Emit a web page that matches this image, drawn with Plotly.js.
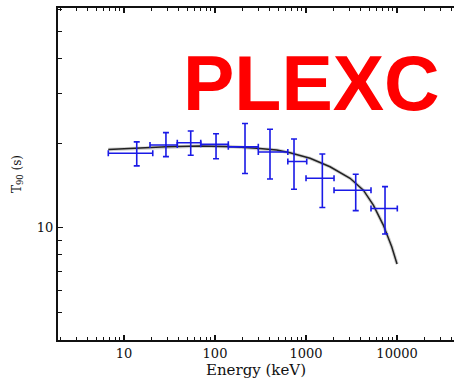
<!DOCTYPE html>
<html>
<head>
<meta charset="utf-8">
<script src="https://cdn.plot.ly/plotly-3.0.1.min.js"></script>
<style>html,body{margin:0;padding:0;background:#fff;}#chart{width:454px;height:379px;}</style>
</head>
<body>
<div id="chart"></div>
<script>
// Data points: energy bin centre (keV), bin edges, T90 (s) and its error bounds
var energy     = [13.8, 28.9, 54.1, 102.6, 213.6, 402, 738, 1511, 3516, 7380];
var energyLow  = [6.72, 19.3, 38.5, 69.7, 140, 299, 631, 1000, 2031, 5176];
var energyHigh = [20.7, 38.5, 69.7, 140, 299, 631, 1018, 2031, 5176, 10070];
var t90        = [18.4, 19.7, 20.07, 19.8, 19.4, 18.6, 17.2, 15.0, 13.6, 11.7];
var t90Low     = [16.6, 17.9, 18.1, 17.6, 15.6, 14.9, 13.7, 11.8, 11.5, 9.5];
var t90High    = [20.2, 21.8, 22.1, 21.6, 23.5, 22.4, 20.7, 18.3, 15.5, 14.0];

// PLEXC model curve
var modelE   = [6.72, 12.65, 29.4, 68.4, 159, 287, 476, 667, 1107, 1836, 3048, 4268, 5495, 7066, 8745, 10000];
var modelT90 = [19.0, 19.17, 19.43, 19.54, 19.43, 19.17, 18.9, 18.49, 17.66, 16.48, 14.99, 13.6, 12.04, 10.22, 8.56, 7.43];

var xMajor = [10, 100, 1000, 10000];
var xMajorText = ['10', '100', '1000', '10000'];
var xMinor = [2,3,4,5,6,7,8,9,20,30,40,50,60,70,80,90,200,300,400,500,600,700,800,900,
              2000,3000,4000,5000,6000,7000,8000,9000,20000,30000,40000];
var yMajor = [10];
var yMajorText = ['10'];
var yMinor = [4,5,6,7,8,9,20,30,40,50,60];

var errPlus = [], errMinus = [], yPlus = [], yMinus = [];
for (var i = 0; i < energy.length; i++) {
  errPlus.push(energyHigh[i] - energy[i]);
  errMinus.push(energy[i] - energyLow[i]);
  yPlus.push(t90High[i] - t90[i]);
  yMinus.push(t90[i] - t90Low[i]);
}

var serif = 'DejaVu Serif, serif';

var traces = [
  {
    x: modelE, y: modelT90, type: 'scatter', mode: 'lines',
    line: {color: 'rgba(0,0,0,0.18)', width: 3.5}, hoverinfo: 'skip', showlegend: false
  },
  {
    x: modelE, y: modelT90, type: 'scatter', mode: 'lines',
    line: {color: '#222222', width: 1.5}, showlegend: false
  },
  {
    x: energy, y: t90, type: 'scatter', mode: 'markers',
    marker: {size: 1, color: '#1a1ae6'},
    error_x: {type: 'data', symmetric: false, array: errPlus, arrayminus: errMinus,
              color: '#1a1ae6', thickness: 1.6, width: 3},
    error_y: {type: 'data', symmetric: false, array: yPlus, arrayminus: yMinus,
              color: '#1a1ae6', thickness: 1.6, width: 3},
    showlegend: false
  }
];

var layout = {
  width: 454, height: 379,
  margin: {l: 58, r: 0, t: 8, b: 39},
  paper_bgcolor: '#fff', plot_bgcolor: '#fff',
  showlegend: false,
  font: {family: serif, size: 13, color: '#111'},
  xaxis: {
    type: 'log', range: [0.2747, 4.626],
    showgrid: false, zeroline: false,
    showline: true, linecolor: '#111', linewidth: 2, mirror: 'ticks',
    ticks: 'inside', ticklen: 5, tickwidth: 1.2, tickcolor: '#111',
    tickmode: 'array', tickvals: xMajor, ticktext: xMajorText,
    tickfont: {family: serif, size: 13, color: '#111'},
    minor: {tickmode: 'array', tickvals: xMinor, ticks: 'inside', ticklen: 3, tickwidth: 1, tickcolor: '#111', showgrid: false},
    title: {text: 'Energy (keV)', font: {family: serif, size: 15, color: '#111'}, standoff: 6}
  },
  yaxis: {
    type: 'log', range: [0.6004, 1.7819],
    showgrid: false, zeroline: false,
    showline: true, linecolor: '#111', linewidth: 2, mirror: false,
    ticks: 'inside', ticklen: 5, tickwidth: 1.2, tickcolor: '#111',
    tickmode: 'array', tickvals: yMajor, ticktext: yMajorText,
    tickfont: {family: serif, size: 13, color: '#111'},
    minor: {tickmode: 'array', tickvals: yMinor, ticks: 'inside', ticklen: 4, tickwidth: 1, tickcolor: '#111', showgrid: false},
    title: {text: 'T<sub>90</sub> (s)', font: {family: serif, size: 12, color: '#111'}, standoff: 13}
  },
  annotations: [{
    text: '<b>PLEXC</b>', xref: 'paper', yref: 'paper', x: 0.639, y: 0.7756,
    xanchor: 'center', yanchor: 'middle', showarrow: false,
    font: {family: 'Liberation Sans, Arial, sans-serif', size: 77, color: '#ff0000'}
  }]
};

Plotly.newPlot('chart', traces, layout, {displayModeBar: false, staticPlot: true});
</script>
</body>
</html>
